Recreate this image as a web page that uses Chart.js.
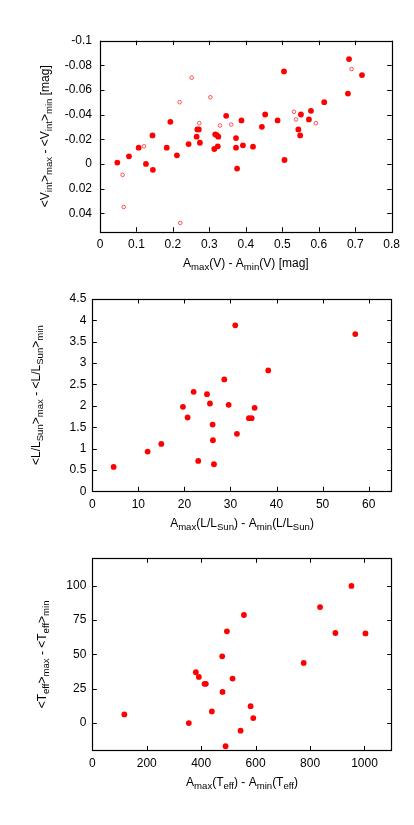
<!DOCTYPE html>
<html><head><meta charset="utf-8">
<script src="https://cdn.jsdelivr.net/npm/chart.js@4"></script>
<style>
html,body{margin:0;padding:0;background:#fff;}
#wrap{position:relative;width:414px;height:825px;overflow:hidden;}
canvas{position:absolute;left:0;top:0;}
</style></head><body><div id="wrap">
<canvas id="c1" width="414" height="825"></canvas>
<canvas id="c2" width="414" height="825"></canvas>
<canvas id="c3" width="414" height="825"></canvas>
</div>
<script>
// ---- Panel 1: V amplitude vs intensity-mean difference ----
const vAmpFilled = [0.0475,0.0795,0.106,0.126,0.144,0.145,0.183,0.193,0.211,0.243,0.265,0.267,0.271,0.274,0.3135,0.316,0.32,0.323,0.3245,0.346,0.373,0.373,0.376,0.388,0.392,0.4196,0.444,0.453,0.487,0.5046,0.506,0.544,0.549,0.551,0.573,0.5786,0.615,0.680,0.683,0.7185];
const vDiffFilled = [-0.0011,-0.0062,-0.0132,0,-0.0231,0.0048,-0.0132,-0.0342,-0.007,-0.0161,-0.0221,-0.028,-0.028,-0.0172,-0.0121,-0.024,-0.0234,-0.0143,-0.0221,-0.039,-0.021,-0.0132,0.0038,-0.0353,-0.0151,-0.014,-0.0301,-0.0401,-0.0353,-0.0751,-0.0032,-0.028,-0.0231,-0.0401,-0.0361,-0.0431,-0.0501,-0.0571,-0.0851,-0.0721];
const vAmpOpen = [0.062,0.065,0.1207,0.2185,0.220,0.2514,0.2724,0.3026,0.329,0.360,0.532,0.5375,0.592,0.690];
const vDiffOpen = [0.0089,0.035,-0.0143,-0.0501,0.0479,-0.070,-0.0331,-0.0541,-0.0312,-0.032,-0.0423,-0.0361,-0.0331,-0.077];
const xTicksV = [0,0.1,0.2,0.3,0.4,0.5,0.6,0.7,0.8];
const yTicksV = [-0.1,-0.08,-0.06,-0.04,-0.02,0,0.02,0.04];

// ---- Panel 2: luminosity ----
const lAmp = [4.63,12.01,14.98,19.68,20.69,22.0,23.0,24.9,25.54,26.12,26.19,26.41,28.65,29.6,31.04,31.4,34.0,34.59,35.24,38.2,57.09];
const lDiff = [0.57,0.93,1.109,1.977,1.727,2.328,0.711,2.273,2.055,1.5625,1.195,0.633,2.617,2.023,3.883,1.344,1.711,1.711,1.953,2.828,3.68];
const xTicksL = [0,10,20,30,40,50,60];
const yTicksL = [0,0.5,1,1.5,2,2.5,3,3.5,4,4.5];

// ---- Panel 3: effective temperature ----
const tAmp = [117.8,354.6,380.4,391.4,412.3,417.2,439.3,477.3,478.5,489.6,494.5,515.3,544.8,557.1,581.6,591.4,776.7,836.8,893.3,952.1,1003.7];
const tDiff = [6.29,0,37.0,33.6,28.6,28.6,8.47,48.6,22.7,-16.9,66.8,32.4,-5.57,78.7,12.3,3.63,43.8,84.5,65.6,99.9,65.3];
const xTicksT = [0,200,400,600,800,1000];
const yTicksT = [0,25,50,75,100];

const FONT = "'Liberation Sans', Arial, Helvetica, sans-serif";
const RED = '#ff0000';

function pts(xs, ys){ return xs.map((x,i)=>({x:x, y:ys[i]})); }

function parseRich(s){
  const parts=[]; const re=/_\{([^}]*)\}/g; let last=0,m;
  while((m=re.exec(s))){
    if(m.index>last) parts.push({t:s.slice(last,m.index),sub:false});
    parts.push({t:m[1],sub:true}); last=re.lastIndex;
  }
  if(last<s.length) parts.push({t:s.slice(last),sub:false});
  return parts;
}
function drawRich(ctx, s, x, y, rotate){
  const parts=parseRich(s);
  const mainF='12px '+FONT, subF='9.6px '+FONT;
  let w=0;
  parts.forEach(p=>{ctx.font=p.sub?subF:mainF; p.w=ctx.measureText(p.t).width; w+=p.w;});
  ctx.save();
  ctx.translate(x,y);
  if(rotate) ctx.rotate(-Math.PI/2);
  ctx.fillStyle='#000'; ctx.textBaseline='alphabetic'; ctx.textAlign='left';
  let cx=-w/2;
  parts.forEach(p=>{ctx.font=p.sub?subF:mainF; ctx.fillText(p.t,cx,p.sub?3.2:0); cx+=p.w;});
  ctx.restore();
}

const frameTicks = {
  id:'frameTicks',
  afterDraw(chart, args, opts){
    const {ctx, chartArea:a, scales:{x,y}} = chart;
    ctx.save();
    ctx.strokeStyle='#000'; ctx.lineWidth=1;
    ctx.beginPath();
    const L=4.5;
    x.ticks.forEach(t=>{
      const p=Math.round(x.getPixelForValue(t.value))+0.5;
      ctx.moveTo(p,a.bottom); ctx.lineTo(p,a.bottom-L);
      ctx.moveTo(p,a.top); ctx.lineTo(p,a.top+L);
    });
    y.ticks.forEach(t=>{
      const p=Math.round(y.getPixelForValue(t.value))+0.5;
      ctx.moveTo(a.left,p); ctx.lineTo(a.left+L,p);
      ctx.moveTo(a.right,p); ctx.lineTo(a.right-L,p);
    });
    ctx.stroke();
    ctx.lineWidth=1.2;
    ctx.strokeRect(Math.round(a.left)+0.5, Math.round(a.top)+0.5, Math.round(a.right-a.left), Math.round(a.bottom-a.top));
    ctx.restore();
    drawRich(ctx, opts.xTitle, (a.left+a.right)/2, a.bottom+35.5, false);
    drawRich(ctx, opts.yTitle, opts.yTitleX, (a.top+a.bottom)/2, true);
  }
};

function fmt(v){ return String(+(+v).toFixed(3)); }

function makeChart(id, datasets, cfg){
  const H=825, XH=40;
  return new Chart(document.getElementById(id), {
    type:'scatter',
    data:{datasets:datasets},
    options:{
      responsive:false, animation:false, devicePixelRatio:1,
      layout:{padding:{left:0, right:414-cfg.right, top:cfg.top, bottom:H-cfg.bottom-XH}},
      plugins:{legend:{display:false}, tooltip:{enabled:false},
        frameTicks:{xTitle:cfg.xTitle, yTitle:cfg.yTitle, yTitleX:cfg.yTitleX}},
      scales:{
        x:{type:'linear', min:cfg.xMin, max:cfg.xMax,
          grid:{display:false, drawTicks:false}, border:{display:false},
          afterBuildTicks:(s)=>{s.ticks=cfg.xTicks.map(v=>({value:v}));},
          afterFit:(s)=>{s.height=XH;},
          ticks:{color:'#000', padding:6, maxRotation:0, autoSkip:false, font:{family:FONT,size:12}, callback:(v)=>fmt(v)}},
        y:{type:'linear', min:cfg.yMin, max:cfg.yMax, reverse:!!cfg.reverse,
          grid:{display:false, drawTicks:false}, border:{display:false},
          afterBuildTicks:(s)=>{s.ticks=cfg.yTicks.map(v=>({value:v}));},
          afterFit:(s)=>{s.width=cfg.left;},
          ticks:{color:'#000', padding:cfg.yPad, autoSkip:false, font:{family:FONT,size:12}, callback:(v)=>fmt(v)}}
      }
    },
    plugins:[frameTicks]
  });
}

const filledStyle = {pointRadius:2.9, pointBackgroundColor:RED, pointBorderColor:RED, pointBorderWidth:0, showLine:false};

makeChart('c1', [
  Object.assign({data:pts(vAmpFilled, vDiffFilled)}, filledStyle),
  {data:pts(vAmpOpen, vDiffOpen), pointRadius:1.8, pointBackgroundColor:'rgba(255,255,255,0)', pointBorderColor:'rgba(255,30,30,0.75)', pointBorderWidth:1, showLine:false}
], {left:100, right:391.7, top:40.7, bottom:231.7, xMin:0, xMax:0.8, yMin:-0.1, yMax:0.055, reverse:true,
  xTicks:xTicksV, yTicks:yTicksV, yPad:8,
  xTitle:'A_{max}(V) - A_{min}(V) [mag]', yTitle:'<V_{int}>_{max} - <V_{int}>_{min} [mag]', yTitleX:49});

makeChart('c2', [Object.assign({data:pts(lAmp, lDiff)}, filledStyle)],
  {left:92.3, right:391.7, top:299, bottom:491.3, xMin:0, xMax:65, yMin:0, yMax:4.5,
  xTicks:xTicksL, yTicks:yTicksL, yPad:6,
  xTitle:'A_{max}(L/L_{Sun}) - A_{min}(L/L_{Sun})', yTitle:'<L/L_{Sun}>_{max} - <L/L_{Sun}>_{min}', yTitleX:40});

makeChart('c3', [Object.assign({data:pts(tAmp, tDiff)}, filledStyle)],
  {left:92.3, right:391.7, top:558.3, bottom:750.5, xMin:0, xMax:1100, yMin:-20, yMax:120,
  xTicks:xTicksT, yTicks:yTicksT, yPad:6,
  xTitle:'A_{max}(T_{eff}) - A_{min}(T_{eff})', yTitle:'<T_{eff}>_{max} - <T_{eff}>_{min}', yTitleX:46});
</script></body></html>
